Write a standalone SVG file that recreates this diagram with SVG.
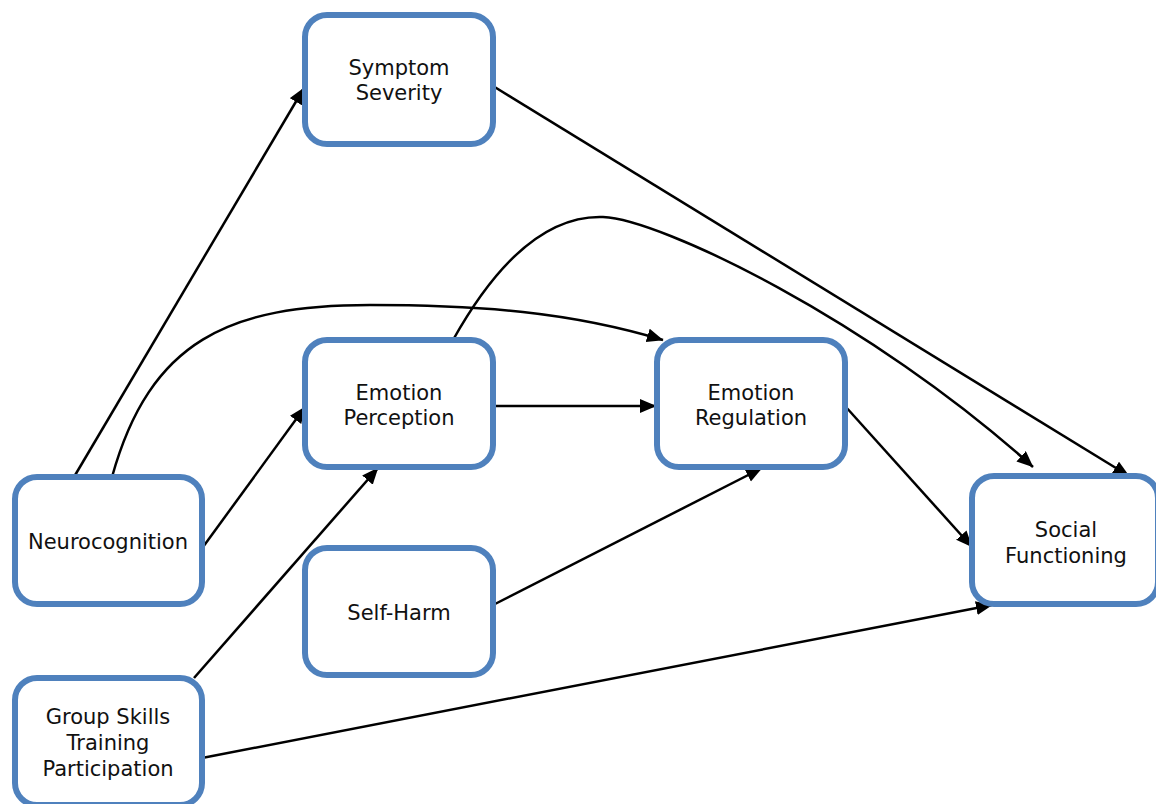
<svg xmlns="http://www.w3.org/2000/svg" width="1156" height="804" viewBox="0 0 1156 804">
<defs>
<style>
.node rect{fill:#ffffff;stroke:#4F81BD;stroke-width:6;}
.node text{font-family:"DejaVu Sans",Verdana,sans-serif;font-size:21px;fill:#111111;text-anchor:middle;}
.edges path{fill:none;stroke:#000000;stroke-width:2.5;marker-end:url(#arr);}
</style>
<marker id="arr" markerUnits="userSpaceOnUse" markerWidth="18" markerHeight="16" refX="16" refY="7" orient="auto">
<path d="M0,0 L16.5,7 L0,14 z" fill="#000000"/>
</marker>
</defs>
<rect width="1156" height="804" fill="#ffffff"/>
<g class="edges" id="connectors">
<path d="M74,477 L304,88"/>
<path d="M112,477 C150,340 230,305 370,305 C480,305 570,312 663,340"/>
<path d="M203,547 L305,407"/>
<path d="M194,678 L378,468"/>
<path d="M202,758 L992,605"/>
<path d="M493,406 L656,406"/>
<path d="M453,340 C495,265 545,215 603,217 C660,219 870,320 1033,467"/>
<path d="M493,86 L1129,476"/>
<path d="M845,406 L972,547"/>
<path d="M493,605 L762,468"/>
</g>
<g class="node" id="symptom-severity">
<rect x="305" y="15" width="188" height="129" rx="22"/>
<text x="399" y="75">Symptom</text>
<text x="399" y="100">Severity</text>
</g>
<g class="node" id="emotion-perception">
<rect x="305" y="340" width="188" height="127" rx="22"/>
<text x="399" y="400">Emotion</text>
<text x="399" y="425">Perception</text>
</g>
<g class="node" id="emotion-regulation">
<rect x="657" y="340" width="188" height="127" rx="22"/>
<text x="751" y="400">Emotion</text>
<text x="751" y="425">Regulation</text>
</g>
<g class="node" id="neurocognition">
<rect x="15" y="477" width="187" height="127" rx="22"/>
<text x="108" y="549">Neurocognition</text>
</g>
<g class="node" id="self-harm">
<rect x="305" y="548" width="188" height="127" rx="22"/>
<text x="399" y="620">Self-Harm</text>
</g>
<g class="node" id="social-functioning">
<rect x="972" y="476" width="186" height="128" rx="22"/>
<text x="1066" y="537">Social</text>
<text x="1066" y="563">Functioning</text>
</g>
<g class="node" id="group-skills">
<rect x="15" y="678" width="187" height="127" rx="22"/>
<text x="108" y="724">Group Skills</text>
<text x="108" y="750">Training</text>
<text x="108" y="776">Participation</text>
</g>
</svg>
